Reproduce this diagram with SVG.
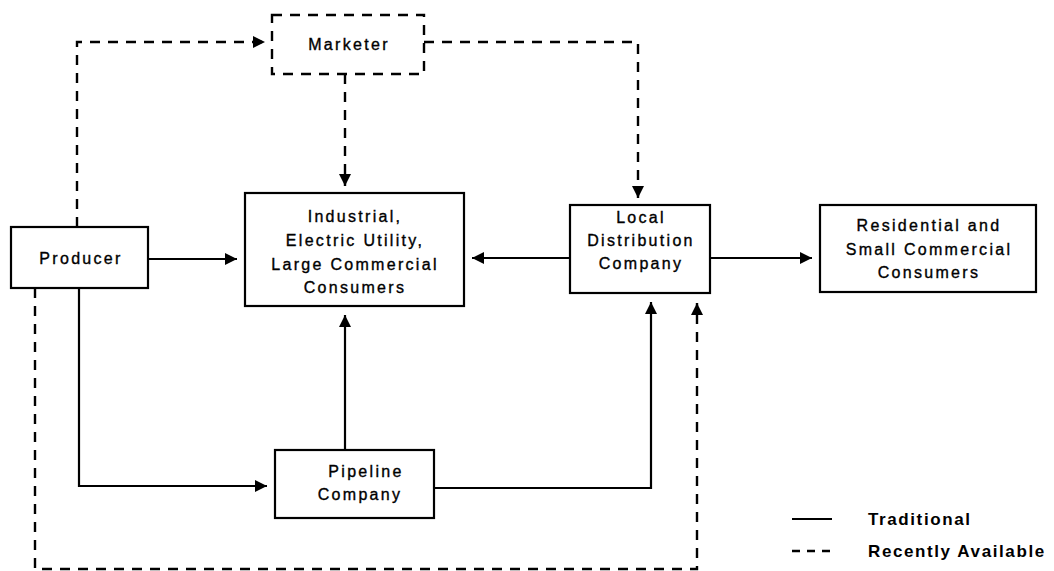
<svg xmlns="http://www.w3.org/2000/svg" width="1054" height="571" viewBox="0 0 1054 571">
<style>
.box{fill:#fff;stroke:#000;stroke-width:2.2}
.dbox{fill:#fff;stroke:#000;stroke-width:2.4;stroke-dasharray:10 8}
.t{font-family:"Liberation Sans",Arial,sans-serif;font-size:16px;letter-spacing:2.3px;fill:#000;stroke:#000;stroke-width:0.35;text-anchor:middle}
.lg{font-family:"Liberation Sans",Arial,sans-serif;font-size:17px;font-weight:bold;letter-spacing:1.6px;fill:#000}
.s{fill:none;stroke:#000;stroke-width:2.2}
.d{fill:none;stroke:#000;stroke-width:2.4;stroke-dasharray:10 8}
</style>
<defs>
<marker id="ah" viewBox="0 0 10 10" refX="10" refY="5" markerWidth="12" markerHeight="14" markerUnits="userSpaceOnUse" orient="auto">
<path d="M0,0 L10,5 L0,10 z" fill="#000"/>
</marker>
</defs>
<rect width="1054" height="571" fill="#fff"/>
<g id="connectors">
<path class="d" d="M77,227 V42 H265" marker-end="url(#ah)"/>
<path class="d" d="M424,42 H638 V198" marker-end="url(#ah)"/>
<path class="d" d="M345,74 V186" marker-end="url(#ah)"/>
<path class="s" d="M148,259 H237" marker-end="url(#ah)"/>
<path class="s" d="M570,258 H472" marker-end="url(#ah)"/>
<path class="s" d="M710,258 H812" marker-end="url(#ah)"/>
<path class="s" d="M79,288 V486 H267" marker-end="url(#ah)"/>
<path class="s" d="M345,450 V315" marker-end="url(#ah)"/>
<path class="s" d="M434,488 H651 V302" marker-end="url(#ah)"/>
<path class="d" d="M35,288 V569 H697 V303" marker-end="url(#ah)"/>
</g>
<g id="marketer">
<rect class="dbox" x="272" y="15" width="152" height="59"/>
<text class="t" x="349" y="50">Marketer</text>
</g>
<g id="producer">
<rect class="box" x="11" y="227" width="137" height="61"/>
<text class="t" x="81" y="264">Producer</text>
</g>
<g id="industrial">
<rect class="box" x="245" y="193" width="219" height="113"/>
<text class="t" x="355" y="222">Industrial,</text>
<text class="t" x="355" y="246">Electric Utility,</text>
<text class="t" x="355" y="270">Large Commercial</text>
<text class="t" x="355" y="293">Consumers</text>
</g>
<g id="ldc">
<rect class="box" x="570" y="205" width="140" height="88"/>
<text class="t" x="641" y="223">Local</text>
<text class="t" x="641" y="246">Distribution</text>
<text class="t" x="641" y="269">Company</text>
</g>
<g id="residential">
<rect class="box" x="820" y="205" width="216" height="87"/>
<text class="t" x="929" y="231">Residential and</text>
<text class="t" x="929" y="255">Small Commercial</text>
<text class="t" x="929" y="278">Consumers</text>
</g>
<g id="pipeline">
<rect class="box" x="275" y="450" width="159" height="68"/>
<text class="t" x="366" y="477">Pipeline</text>
<text class="t" x="360" y="500">Company</text>
</g>
<g id="legend">
<line class="s" x1="792" y1="519" x2="832" y2="519"/>
<text class="lg" x="868" y="525">Traditional</text>
<line x1="792" y1="551" x2="832" y2="551" stroke="#000" stroke-width="2.4" stroke-dasharray="8 7"/>
<text class="lg" x="868" y="557">Recently Available</text>
</g>
</svg>
